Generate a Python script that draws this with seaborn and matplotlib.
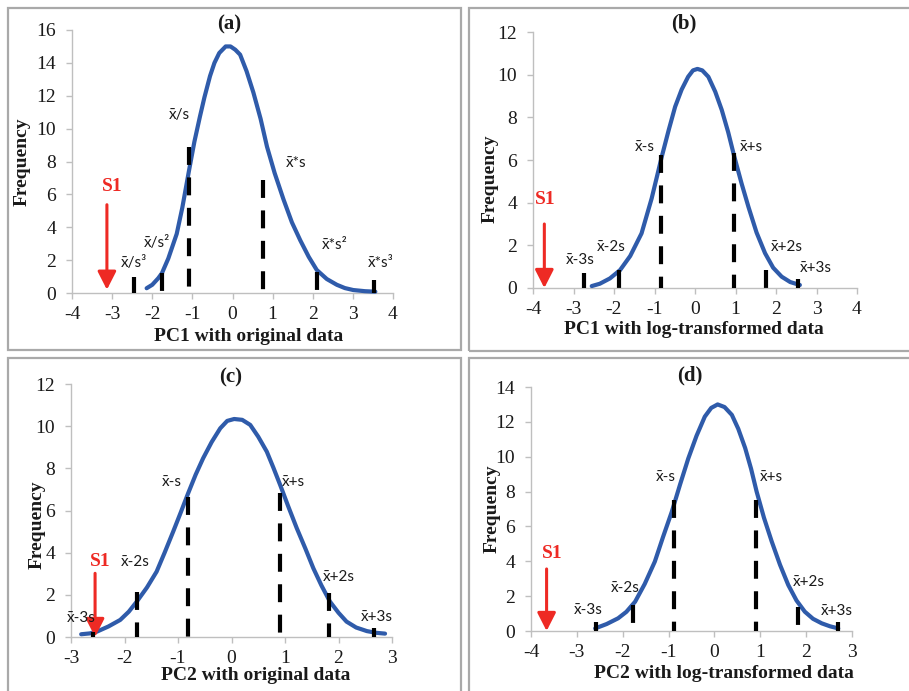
import matplotlib
matplotlib.use("Agg")
import matplotlib.pyplot as plt
from matplotlib.patches import Rectangle
import pandas as pd
import seaborn as sns

# ---------------- data ----------------
# (a) PC1 with original data
pc1_orig_x = [-2.14, -2.0, -1.85, -1.76, -1.6, -1.39, -1.25, -1.08, -0.95, -0.81,
              -0.7, -0.56, -0.45, -0.33, -0.17, -0.05, 0.07, 0.19, 0.35, 0.52,
              0.7, 0.86, 1.05, 1.27, 1.48, 1.69, 1.9, 2.10, 2.35, 2.60,
              2.8, 3.01, 3.3, 3.56]
pc1_orig_freq = [0.29, 0.5, 0.9, 1.2, 2.1, 3.6, 5.2, 7.5, 9.2, 10.75,
                 11.9, 13.2, 14.0, 14.6, 15.0, 15.0, 14.8, 14.5, 13.5, 12.2,
                 10.6, 8.9, 7.3, 5.7, 4.3, 3.2, 2.2, 1.4, 0.85, 0.5,
                 0.3, 0.18, 0.11, 0.08]
pc1_orig_marks = [-2.45, -1.76, -1.08, 0.76, 2.11, 3.53]
pc1_orig_mark_tops = [1.0, 1.2, 8.9, 6.9, 1.3, 0.8]
pc1_orig_labels = ["x̄/s³", "x̄/s²", "x̄/s", "x̄*s", "x̄*s²", "x̄*s³"]
pc1_orig_s1 = -3.13

# (b) PC1 with log-transformed data
pc1_log_x = [-2.55, -2.35, -2.1, -1.85, -1.6, -1.32, -1.07, -0.82, -0.65, -0.49,
             -0.33, -0.17, -0.05, 0.06, 0.18, 0.33, 0.5, 0.66, 0.82, 0.97,
             1.15, 1.32, 1.52, 1.73, 1.93, 2.14, 2.35, 2.59]
pc1_log_freq = [0.09, 0.2, 0.45, 0.84, 1.5, 2.56, 4.2, 6.16, 7.4, 8.5,
                9.3, 9.9, 10.2, 10.27, 10.2, 9.9, 9.2, 8.35, 7.3, 6.16,
                4.9, 3.8, 2.6, 1.63, 0.95, 0.53, 0.28, 0.14]
pc1_log_marks = [-2.73, -1.87, -0.83, 0.96, 1.75, 2.54]
pc1_log_mark_tops = [0.69, 0.84, 6.23, 6.31, 0.84, 0.4]
pc1_log_s1 = -3.72

# (c) PC2 with original data
pc2_orig_x = [-2.81, -2.65, -2.52, -2.3, -2.08, -1.92, -1.77, -1.58, -1.40, -1.25,
              -1.09, -0.95, -0.81, -0.67, -0.53, -0.37, -0.21, -0.08, 0.05, 0.2,
              0.35, 0.5, 0.66, 0.78, 0.91, 1.06, 1.22, 1.38, 1.53, 1.68,
              1.84, 2.0, 2.15, 2.33, 2.53, 2.7, 2.87]
pc2_orig_freq = [0.13, 0.17, 0.25, 0.5, 0.81, 1.2, 1.68, 2.35, 3.1, 4.0,
                 5.0, 5.9, 6.82, 7.7, 8.48, 9.25, 9.9, 10.25, 10.34, 10.3,
                 10.06, 9.5, 8.79, 8.05, 7.21, 6.2, 5.16, 4.2, 3.26, 2.45,
                 1.68, 1.15, 0.73, 0.45, 0.28, 0.2, 0.16]
pc2_orig_marks = [-2.59, -1.77, -0.81, 0.91, 1.83, 2.66]
pc2_orig_mark_tops = [0.25, 2.15, 6.66, 6.82, 2.07, 0.44]
pc2_orig_s1 = -2.55

# (d) PC2 with log-transformed data
pc2_log_x = [-2.60, -2.35, -2.10, -1.92, -1.73, -1.52, -1.30, -1.12, -0.93, -0.75,
             -0.57, -0.39, -0.21, -0.07, 0.07, 0.22, 0.38, 0.52, 0.67, 0.8,
             0.92, 1.08, 1.25, 1.43, 1.61, 1.79, 1.97, 2.15, 2.34, 2.52, 2.70]
pc2_log_freq = [0.15, 0.4, 0.73, 1.1, 1.68, 2.7, 3.98, 5.4, 6.84, 8.4,
                9.9, 11.2, 12.3, 12.8, 13.0, 12.85, 12.4, 11.6, 10.5, 9.3,
                8.0, 6.5, 5.13, 3.8, 2.64, 1.75, 1.11, 0.7, 0.44, 0.27, 0.15]
pc2_log_marks = [-2.59, -1.78, -0.89, 0.91, 1.83, 2.69]
pc2_log_mark_tops = [0.5, 1.49, 7.5, 7.5, 1.39, 0.5]
pc2_log_mark_bottoms = [0, 0, 0, 0, -0.35, 0]
pc2_log_s1 = -3.66

sd_labels = ["x̄-3s", "x̄-2s", "x̄-s", "x̄+s", "x̄+2s", "x̄+3s"]

# ---------------- style ----------------
sns.set_style("white")
plt.rcParams["font.family"] = ["Liberation Serif", "DejaVu Serif"]
plt.rcParams["axes.unicode_minus"] = False

BLUE = "#2F5BAA"
RED = "#EE2A24"
GRID_GREY = "#BFBFBF"
TXT = "#1A1A1A"
SANS = ["Lato", "DejaVu Sans"]

W, H = 909, 691
fig = plt.figure(figsize=(W / 100, H / 100), dpi=100)


def px_axes(l, t, r, b):
    return fig.add_axes([l / W, 1 - b / H, (r - l) / W, (b - t) / H])


# panel frames
for (l, t, r, b) in [(8, 8, 461, 350), (469, 8, 915, 351),
                     (8, 358, 461, 700), (469, 358, 915, 700)]:
    fig.add_artist(Rectangle((l / W, 1 - b / H), (r - l) / W, (b - t) / H,
                             transform=fig.transFigure, fill=False,
                             edgecolor="#A9A9A9", lw=1.6))

panels = [
    dict(box=(72, 30, 393, 293), x=pc1_orig_x, y=pc1_orig_freq,
         marks=pc1_orig_marks, tops=pc1_orig_mark_tops, bottoms=None,
         labels=pc1_orig_labels,
         label_xy=[(-2.45, 1.83), (-1.88, 3.05), (-1.33, 10.85), (1.59, 7.9),
                   (2.55, 2.9), (3.7, 1.83)],
         s1=pc1_orig_s1, s1_text=(-3.0, 6.46), arrow=(5.37, 0.2),
         xlim=(-4, 4), ylim=(0, 16), title="(a)", title_pos=(0.49, 1.02),
         xlabel="PC1 with original data", xlabel_pos=(0.549, -43.7),
         ylabel_pos=(-50.3, 0.499)),
    dict(box=(533, 32, 857, 288), x=pc1_log_x, y=pc1_log_freq,
         marks=pc1_log_marks, tops=pc1_log_mark_tops, bottoms=None,
         labels=sd_labels,
         label_xy=[(-2.84, 1.31), (-2.06, 1.94), (-1.25, 6.63), (1.40, 6.63),
                   (2.26, 1.94), (2.99, 0.92)],
         s1=pc1_log_s1, s1_text=(-3.69, 4.13), arrow=(3.0, 0.0),
         xlim=(-4, 4), ylim=(0, 12), title="(b)", title_pos=(0.467, 1.034),
         xlabel="PC1 with log-transformed data", xlabel_pos=(0.498, -41.3),
         ylabel_pos=(-43, 0.428)),
    dict(box=(71, 384, 392, 637), x=pc2_orig_x, y=pc2_orig_freq,
         marks=pc2_orig_marks, tops=pc2_orig_mark_tops, bottoms=None,
         labels=sd_labels,
         label_xy=[(-2.80, 0.89), (-1.80, 3.54), (-1.12, 7.34), (1.16, 7.34),
                   (2.0, 2.83), (2.71, 0.96)],
         s1=pc2_orig_s1, s1_text=(-2.46, 3.57), arrow=(3.02, 0.0),
         xlim=(-3, 3), ylim=(0, 12), title="(c)", title_pos=(0.498, 1.026),
         xlabel="PC2 with original data", xlabel_pos=(0.575, -38),
         ylabel_pos=(-33.7, 0.443)),
    dict(box=(531, 387, 852, 631), x=pc2_log_x, y=pc2_log_freq,
         marks=pc2_log_marks, tops=pc2_log_mark_tops,
         bottoms=pc2_log_mark_bottoms, labels=sd_labels,
         label_xy=[(-2.75, 1.2), (-1.95, 2.45), (-1.06, 8.82), (1.25, 8.82),
                   (2.05, 2.79), (2.67, 1.16)],
         s1=pc2_log_s1, s1_text=(-3.54, 4.46), arrow=(3.56, 0.0),
         xlim=(-4, 3), ylim=(0, 14), title="(d)", title_pos=(0.495, 1.046),
         xlabel="PC2 with log-transformed data", xlabel_pos=(0.602, -42.3),
         ylabel_pos=(-38.7, 0.503)),
]

for p in panels:
    l, t, r, b = p["box"]
    ax = px_axes(l, t, r, b)
    hpx = b - t
    wpx = r - l

    df = pd.DataFrame({"x": p["x"], "freq": p["y"]})
    sns.lineplot(data=df, x="x", y="freq", ax=ax, color=BLUE, lw=3.0,
                 sort=False, clip_on=False, zorder=3,
                 solid_capstyle="round", solid_joinstyle="round")

    bottoms = p["bottoms"] if p["bottoms"] is not None else [0] * len(p["marks"])
    ax.vlines(p["marks"], p["tops"], bottoms, colors="black", lw=3.0,
              linestyles=[(0, (4.3, 3.0))], zorder=4, clip_on=False)

    for lab, (lx, ly) in zip(p["labels"], p["label_xy"]):
        ax.text(lx, ly, lab, ha="center", va="center", fontsize=11,
                family=SANS, color=TXT, zorder=5)

    ax.text(*p["s1_text"], "S1", color=RED, fontsize=14, fontweight="bold",
            ha="center", va="center")
    ax.annotate("", xy=(p["s1"], p["arrow"][1]), xytext=(p["s1"], p["arrow"][0]),
                arrowprops=dict(arrowstyle="-|>,head_length=0.55,head_width=0.28",
                                color=RED, lw=2.2, mutation_scale=20,
                                shrinkA=0, shrinkB=0), annotation_clip=False)

    ax.set_xlim(*p["xlim"])
    ax.set_ylim(*p["ylim"])
    ax.set_xticks(range(p["xlim"][0], p["xlim"][1] + 1))
    ax.set_yticks(range(p["ylim"][0], p["ylim"][1] + 1, 2))
    ax.tick_params(axis="both", which="major", labelsize=14, colors=GRID_GREY,
                   labelcolor=TXT, length=4.5, width=1, direction="out",
                   left=True, bottom=True)
    ax.tick_params(axis="y", pad=7)
    ax.tick_params(axis="x", pad=5)
    for side in ["top", "right"]:
        ax.spines[side].set_visible(False)
    for side in ["left", "bottom"]:
        ax.spines[side].set_color(GRID_GREY)
        ax.spines[side].set_linewidth(1.0)
    ax.set_facecolor("none")

    ax.set_xlabel(p["xlabel"], fontsize=14, fontweight="bold", color=TXT)
    ax.xaxis.set_label_coords(p["xlabel_pos"][0], p["xlabel_pos"][1] / hpx)
    ax.xaxis.label.set_va("center")
    ax.set_ylabel("Frequency", fontsize=14, fontweight="bold", color=TXT)
    ax.yaxis.set_label_coords(p["ylabel_pos"][0] / wpx, p["ylabel_pos"][1])
    ax.yaxis.label.set_va("center")

    ax.text(p["title_pos"][0], p["title_pos"][1], p["title"],
            transform=ax.transAxes, ha="center", va="center", fontsize=15,
            fontweight="bold", color=TXT)

fig.savefig("out.png", dpi=100)
